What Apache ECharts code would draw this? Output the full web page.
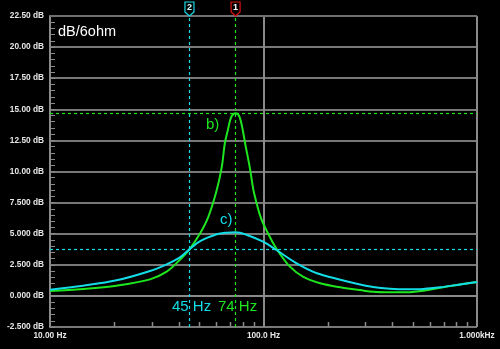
<!DOCTYPE html>
<html>
<head>
<meta charset="utf-8">
<script src="https://cdn.jsdelivr.net/npm/echarts@6/dist/echarts.min.js"></script>
<style>
  html, body { margin: 0; padding: 0; background: #000; }
  #chart { width: 500px; height: 349px; }
</style>
</head>
<body>
<div id="chart"></div>
<script>
// Response b) — sharp resonance
const bFreq = [10, 14.3, 20.5, 29.4, 35.2, 40.6, 45, 50.5, 55.2, 60.4, 63.8, 65.9, 68, 70.7, 74, 77.2, 80, 82, 86.1, 89.7, 92, 96, 99.6, 111, 119, 133, 153, 184, 229, 283, 326, 391, 468, 561, 672, 805, 1000];
const bDb   = [0.39, 0.55, 0.82, 1.33, 1.95, 2.9, 3.74, 5.03, 6.37, 8.51, 10.39, 12.27, 13.3, 14.4, 14.68, 14.4, 13.3, 12.27, 10.39, 8.51, 7.71, 6.55, 5.83, 4.23, 3.42, 2.35, 1.54, 1.01, 0.69, 0.47, 0.33, 0.29, 0.29, 0.42, 0.66, 0.88, 1.12];

// Response c) — damped resonance
const cFreq = [10, 14.3, 20.5, 29.4, 35.2, 40.6, 45, 50.5, 60.4, 67, 74, 83.6, 99.6, 115, 143, 178, 229, 280, 326, 391, 468, 561, 672, 805, 1000];
const cDb   = [0.5, 0.82, 1.25, 2.0, 2.54, 3.1, 3.74, 4.4, 4.95, 5.08, 5.11, 4.9, 4.36, 3.69, 2.62, 1.82, 1.3, 0.94, 0.72, 0.58, 0.53, 0.56, 0.69, 0.88, 1.12];

// Cursor markers
const markerNames = ['1', '2'];
const markerFreqs = [74, 45];
const markerLabels = ['74 Hz', '45 Hz'];

// Axis ticks
const xTickValues = [10, 100, 1000];
const xTickLabels = ['10.00 Hz', '100.0 Hz', '1.000kHz'];
const xMinorTicks = [20, 30, 40, 50, 60, 70, 80, 90, 200, 300, 400, 500, 600, 700, 800, 900];
const yMin = -2.5, yMax = 22.5, yStep = 2.5;

const GREEN = '#1ee61e';
const CYAN = '#14dce6';
const GRID = '#a0a0a0';
const AXIS = '#8a8a8a';

// Readout levels of the cursors
const levelB = Math.max(...bDb);
const levelC = cDb[cFreq.indexOf(markerFreqs[1])];

const zip = (xs, ys) => xs.map((x, i) => [x, ys[i]]);

const chart = echarts.init(document.getElementById('chart'), null, { renderer: 'canvas' });

const labelFont = { color: '#e6e6e6', fontSize: 8.3, fontWeight: 'bold', fontFamily: 'Liberation Sans, Arial, sans-serif' };

chart.setOption({
  backgroundColor: '#000',
  animation: false,
  grid: { left: 50, right: 23, top: 16, bottom: 22, containLabel: false },
  xAxis: {
    type: 'log', logBase: 10, min: 10, max: 1000,
    axisLine: { show: true, lineStyle: { color: AXIS, width: 2 } },
    axisTick: { show: false },
    splitLine: { show: true, lineStyle: { color: AXIS, width: 2 } },
    axisLabel: Object.assign({
      margin: 5,
      formatter: v => {
        const i = xTickValues.findIndex(t => Math.abs(t - v) < 1e-6 * t);
        return i >= 0 ? xTickLabels[i] : '';
      }
    }, labelFont)
  },
  yAxis: {
    type: 'value', min: yMin, max: yMax, interval: yStep,
    axisLine: { show: true, lineStyle: { color: AXIS, width: 2 } },
    axisTick: { show: true, inside: true, length: 5, lineStyle: { color: AXIS } },
    minorTick: { show: true, splitNumber: 5, length: 5, lineStyle: { color: AXIS } },
    splitLine: { show: true, lineStyle: { color: GRID, width: 1.5 } },
    axisLabel: Object.assign({
      margin: 6,
      formatter: v => v.toPrecision(4) + ' dB'
    }, labelFont)
  },
  series: [
    {
      name: 'b)', type: 'line', data: zip(bFreq, bDb),
      smooth: 0.35, symbol: 'none',
      lineStyle: { color: GREEN, width: 2 },
      markLine: {
        silent: true, symbol: 'none', label: { show: false },
        lineStyle: { color: GREEN, type: [3, 3], width: 1.2 },
        data: [{ yAxis: levelB }, { xAxis: markerFreqs[0] }]
      },
      z: 3
    },
    {
      name: 'c)', type: 'line', data: zip(cFreq, cDb),
      smooth: 0.35, symbol: 'none',
      lineStyle: { color: CYAN, width: 2 },
      markLine: {
        silent: true, symbol: 'none', label: { show: false },
        lineStyle: { color: CYAN, type: [3, 3], width: 1.2 },
        data: [{ yAxis: levelC }, { xAxis: markerFreqs[1] }]
      },
      z: 4
    }
  ]
});

// Overlay: top border, minor x ticks, cursor flags, captions
function buildOverlay() {
  const els = [];
  const p0 = chart.convertToPixel({ gridIndex: 0 }, [10, yMin]);
  const p1 = chart.convertToPixel({ gridIndex: 0 }, [1000, yMax]);
  const yBottom = p0[1], yTop = p1[1];

  els.push({ type: 'line', shape: { x1: p0[0], y1: yTop, x2: p1[0], y2: yTop }, style: { stroke: '#707070', lineWidth: 2 }, silent: true, z: 1 });

  xMinorTicks.forEach(f => {
    const x = Math.round(chart.convertToPixel({ gridIndex: 0 }, [f, yMin])[0]) + 0.5;
    els.push({ type: 'line', shape: { x1: x, y1: yBottom, x2: x, y2: yBottom - 5 }, style: { stroke: AXIS, lineWidth: 1.5 }, silent: true });
  });

  const flagColors = ['#e01010', CYAN];
  const flagText = ['#ffffff', '#d8ffff'];
  markerFreqs.forEach((f, i) => {
    const x = chart.convertToPixel({ gridIndex: 0 }, [f, yMin])[0];
    els.push({
      type: 'polygon',
      shape: { points: [[x - 4.5, yTop - 14], [x + 4.5, yTop - 14], [x + 4.5, yTop - 4], [x, yTop], [x - 4.5, yTop - 4]] },
      style: { fill: '#000', stroke: flagColors[i], lineWidth: 1.2 },
      silent: true, z: 10
    });
    els.push({
      type: 'text', x: x, y: yTop - 8.5,
      style: { text: markerNames[i], fill: flagText[i], font: 'bold 9px Liberation Sans, Arial, sans-serif', align: 'center', verticalAlign: 'middle' },
      silent: true, z: 11
    });
  });

  const cap = (text, x, y, color, size) => els.push({
    type: 'text', x: x, y: y,
    style: { text: text, fill: color, font: size + 'px Liberation Sans, Arial, sans-serif', verticalAlign: 'top' },
    silent: true, z: 12
  });
  cap('dB/6ohm', 58, 24, '#ffffff', 14.5);
  cap('b)', 206, 117, GREEN, 15);
  cap('c)', 220, 212, CYAN, 15);
  cap(markerLabels[1], 172, 299, CYAN, 15);
  cap(markerLabels[0], 218, 299, GREEN, 15);

  chart.setOption({ graphic: { elements: els } });
}
buildOverlay();
</script>
</body>
</html>
